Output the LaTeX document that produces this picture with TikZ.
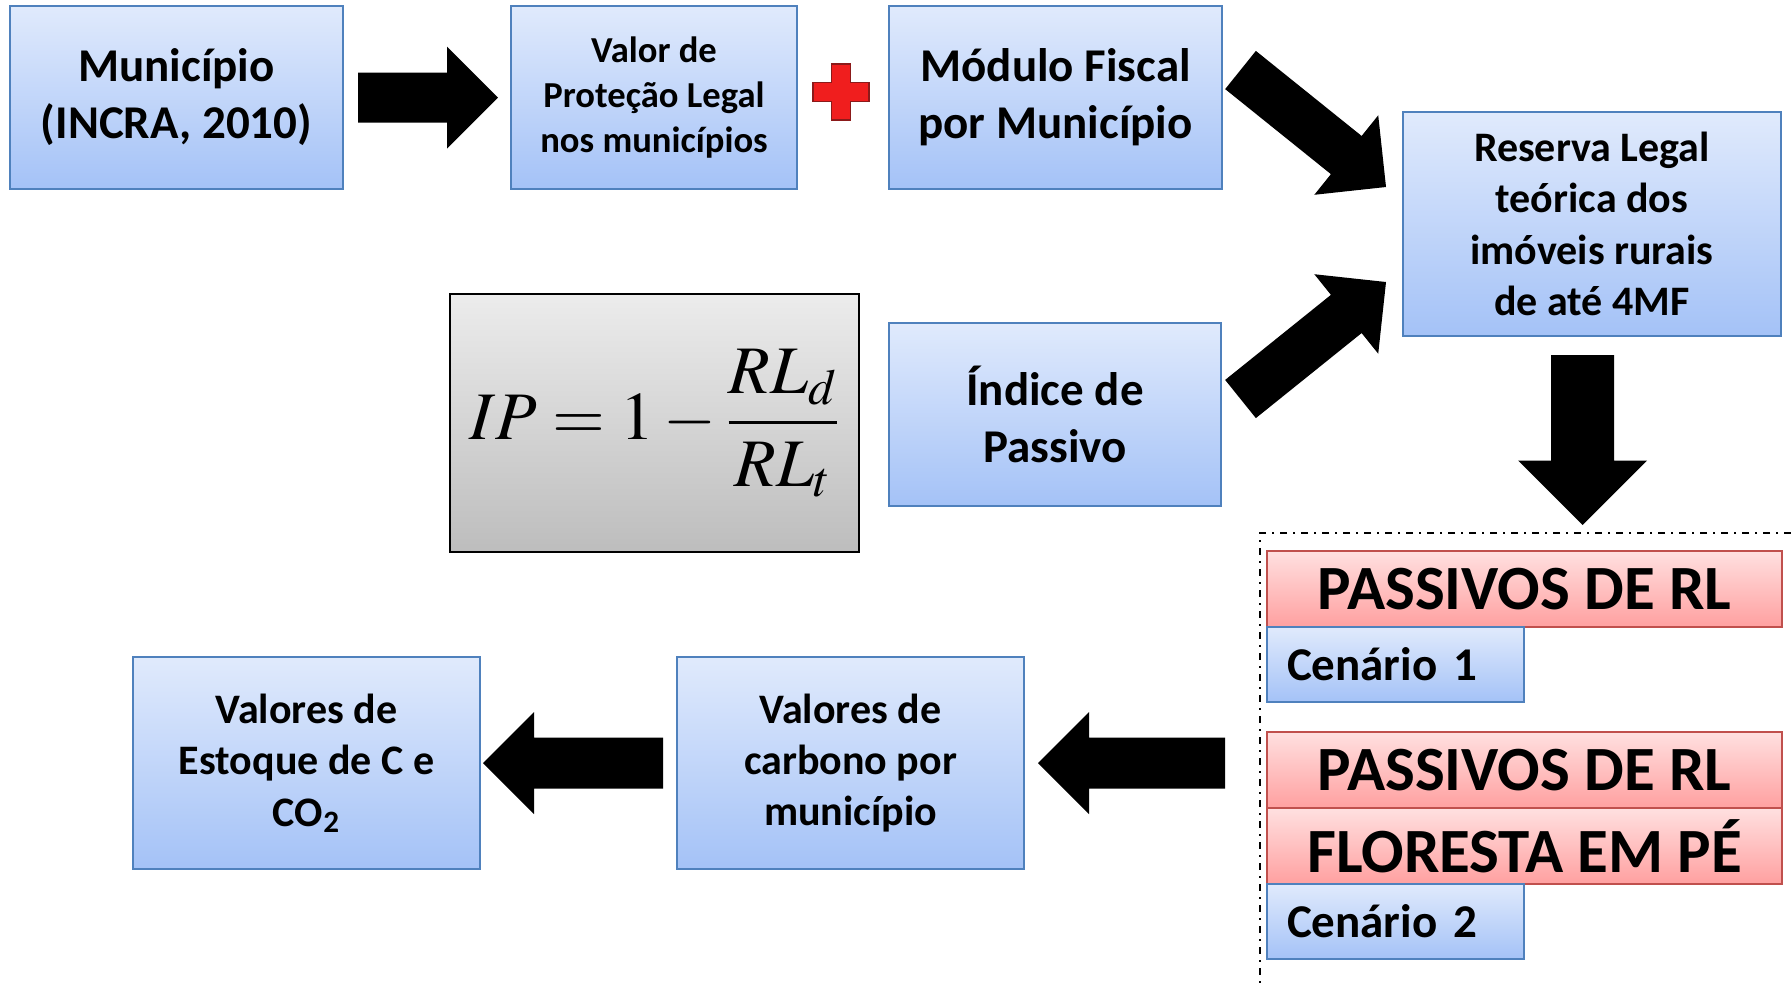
\documentclass[tikz,border=0pt]{standalone}
\usepackage{mathptmx}
\usepackage[no-math]{fontspec}
\setmainfont{Carlito}
\usetikzlibrary{calc}

\definecolor{bluetop}{HTML}{E0EAFC}
\definecolor{bluebot}{HTML}{A4C2F7}
\definecolor{blueline}{HTML}{4F81BD}
\definecolor{redtop}{HTML}{FFE0E0}
\definecolor{redbot}{HTML}{FFA0A0}
\definecolor{redline}{HTML}{C0504D}
\definecolor{graytop}{HTML}{ECECEC}
\definecolor{graybot}{HTML}{BDBDBD}
\definecolor{plusred}{HTML}{F01E1E}
\definecolor{plusline}{HTML}{8B1A1A}

\tikzset{
  bluebox/.style={draw=blueline, line width=1pt, top color=bluetop, bottom color=bluebot,
    align=center, inner sep=0pt, font=\bfseries},
  redbox/.style={draw=redline, line width=1pt, top color=redtop, bottom color=redbot,
    inner sep=0pt, minimum width=257.5pt, minimum height=38pt,
    font=\fontsize{31.5}{36}\selectfont\bfseries},
  scenbox/.style={bluebox, minimum height=37.5pt, text width=108.5pt, inner xsep=10pt,
    align=left, font=\fontsize{23.5}{28}\selectfont\bfseries},
  formbox/.style={draw=black, line width=1pt, top color=graytop, bottom color=graybot,
    inner sep=0pt, minimum width=204.5pt, minimum height=129pt},
  framedash/.style={line width=1pt, dash pattern=on 3.5pt off 3pt on 1pt off 3pt}
}

\newcommand{\blockarrow}[4]{%
  \coordinate (hb) at ($(#2)!#4!(#1)$);
  \fill ($(#1)!#3!90:(#2)$) -- ($(hb)!#3!90:(#2)$) -- ($(hb)!#4!90:(#2)$) -- (#2)
    -- ($(hb)!#4!-90:(#2)$) -- ($(hb)!#3!-90:(#2)$) -- ($(#1)!#3!-90:(#2)$) -- cycle;}

\begin{document}
\begin{tikzpicture}[x=0.5pt,y=-0.5pt]
    \useasboundingbox (0,0) rectangle (1791,987);

    \node[bluebox, minimum width=166.5pt, minimum height=91.5pt, font=\fontsize{23.5}{28.5}\selectfont\bfseries]
        (mun) at (176.5,97.5) {Município\\(INCRA, 2010)};
    \node[bluebox, minimum width=143pt, minimum height=91.5pt, font=\fontsize{18.3}{22.5}\selectfont\bfseries]
        (val) at (654,97.5) {Valor de\\Proteção Legal\\nos municípios};
    \node[bluebox, minimum width=166.5pt, minimum height=91.5pt, font=\fontsize{23.5}{28.5}\selectfont\bfseries]
        (mod) at (1055.5,97.5) {Módulo Fiscal\\por Município};
    \node[bluebox, minimum width=189pt, minimum height=112pt, font=\fontsize{21}{25.7}\selectfont\bfseries]
        (res) at (1592,224) {Reserva Legal\\teórica dos\\imóveis rurais\\de até 4MF};
    \node[formbox, font=\fontsize{34}{40}\selectfont]
        (form) at (654.5,423) {$\displaystyle IP=1-\frac{RL_d}{RL_t}$};
    \node[bluebox, minimum width=166pt, minimum height=91.5pt, font=\fontsize{23.5}{28.5}\selectfont\bfseries]
        (ind) at (1055,414.5) {Índice de\\Passivo};

    \node[redbox] (pas1) at (1524.5,589) {PASSIVOS DE RL};
    \node[scenbox] (cen1) at (1395.5,664.5) {Cenário 1};
    \node[redbox] (pas2) at (1524.5,770) {PASSIVOS DE RL};
    \node[redbox] (flo) at (1524.5,846) {FLORESTA EM PÉ};
    \node[scenbox] (cen2) at (1395.5,921.5) {Cenário 2};

    \node[bluebox, minimum width=173.5pt, minimum height=106pt, font=\fontsize{21}{25.7}\selectfont\bfseries]
        (car) at (850.5,763) {Valores de\\carbono por\\município};
    \node[bluebox, minimum width=173.5pt, minimum height=106pt, font=\fontsize{21}{25.7}\selectfont\bfseries]
        (est) at (306.5,763) {Valores de\\Estoque de C e\\CO\textsubscript{2}};

    \draw[framedash] (1791,533) -- (1260,533) -- (1260,987);

    \coordinate (plus) at (841,92);
    \filldraw[fill=plusred, draw=plusline, line width=0.6pt, shift={(plus)}]
        (-4.75pt,-14pt) -- (4.75pt,-14pt) -- (4.75pt,-4.75pt) -- (14pt,-4.75pt) -- (14pt,4.75pt)
        -- (4.75pt,4.75pt) -- (4.75pt,14pt) -- (-4.75pt,14pt) -- (-4.75pt,4.75pt) -- (-14pt,4.75pt)
        -- (-14pt,-4.75pt) -- (-4.75pt,-4.75pt) -- cycle;

    \coordinate (a1s) at ([xshift=7pt]mun.east);
    \coordinate (a1e) at ([xshift=-6pt]val.west);
    \coordinate (a2s) at ([xshift=8.75pt,yshift=13.75pt]mod.east);
    \coordinate (a2e) at ([xshift=-8pt,yshift=18.5pt]res.west);
    \coordinate (a3s) at ([xshift=9.25pt,yshift=7.75pt]ind.east);
    \coordinate (a3e) at ([xshift=-8pt,yshift=-29pt]res.west);
    \coordinate (a4s) at ([xshift=-4.75pt,yshift=-9pt]res.south);
    \coordinate (a4e) at ([xshift=-4.75pt,yshift=-94pt]res.south);
    \coordinate (a5s) at ([xshift=100pt]car.east);
    \coordinate (a5e) at ([xshift=6.5pt]car.east);
    \coordinate (a6s) at ([xshift=-6.5pt]car.west);
    \coordinate (a6e) at ([xshift=1pt]est.east);

    \blockarrow{a1s}{a1e}{12.5pt}{25.5pt}
    \blockarrow{a2s}{a2e}{12.25pt}{25.5pt}
    \blockarrow{a3s}{a3e}{12.25pt}{25.5pt}
    \blockarrow{a4s}{a4e}{15.75pt}{32.25pt}
    \blockarrow{a5s}{a5e}{12.75pt}{25.5pt}
    \blockarrow{a6s}{a6e}{12.75pt}{25.5pt}
\end{tikzpicture}
\end{document}
